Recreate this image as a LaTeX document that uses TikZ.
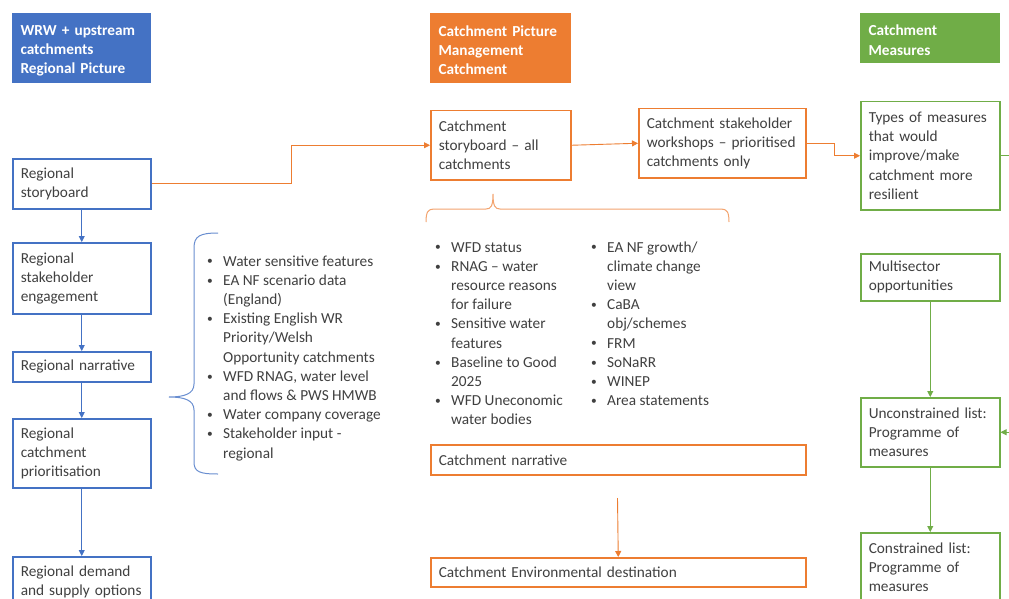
\documentclass[tikz,border=0pt]{standalone}
\usepackage{fontspec}
\setmainfont{Carlito}
\usetikzlibrary{arrows.meta}
\definecolor{cblue}{HTML}{4472C4}
\definecolor{corange}{HTML}{ED7D31}
\definecolor{cgreen}{HTML}{70AD47}
\definecolor{ctext}{HTML}{404040}
\newcommand{\bul}{\raisebox{0.15ex}{\scalebox{0.75}{\textbullet}}}
\newcommand{\hstr}{\rule{0pt}{15pt}}
\begin{document}
\begin{tikzpicture}[x=1pt,y=-1pt,
  font=\fontsize{15.3}{19.2}\selectfont,
  box/.style={draw=#1,line width=1.5pt,fill=white,text=ctext,align=left,
    inner xsep=8pt,inner ysep=0pt,anchor=north west},
  head/.style={draw=#1,fill=#1,line width=1pt,text=white,align=left,
    inner xsep=8pt,inner ysep=0pt,anchor=north west,font=\fontsize{15.3}{19.2}\selectfont\bfseries},
  conn/.style={draw=#1,line width=0.9pt,-{Triangle[length=6pt,width=6pt]}},
  list/.style={anchor=base west,inner sep=0pt,text=ctext,align=left}]
\useasboundingbox (0,0) rectangle (1009,599);
\clip (0,0) rectangle (1009,599);
\fill[white] (0,0) rectangle (1009,599);

% headers
\node[head=cblue,minimum width=138,minimum height=69,text width=122] (h1) at (12,13)
  {\hstr WRW + upstream\\catchments\\Regional Picture};
\node[head=corange,minimum width=140,minimum height=69,text width=124] (h2) at (430,13)
  {\hstr Catchment Picture\\Management\\Catchment};
\node[head=cgreen,minimum width=139,minimum height=49,text width=123] (h3) at (860,13)
  {\hstr Catchment\\Measures};

% regional column
\node[box=cblue,minimum width=138,minimum height=50,text width=122] (b1) at (12,158) {Regional\\storyboard};
\node[box=cblue,minimum width=138,minimum height=71,text width=122] (b2) at (12,242) {Regional\\stakeholder\\engagement};
\node[box=cblue,minimum width=138,minimum height=30,text width=122] (b3) at (12,351) {Regional narrative};
\node[box=cblue,minimum width=138,minimum height=69,text width=122] (b4) at (12,418) {Regional\\catchment\\prioritisation};
\node[box=cblue,minimum width=138,minimum height=51,text width=122] (b5) at (12,556) {Regional demand\\and supply options};

% catchment column
\node[box=corange,minimum width=140,minimum height=69,text width=124] (o1) at (430,110) {Catchment\\storyboard -- all\\catchments};
\node[box=corange,minimum width=167,minimum height=69,text width=151] (o2) at (638,108) {Catchment stakeholder\\workshops -- prioritised\\catchments only};
\node[box=corange,minimum width=375,minimum height=30,text width=359] (o3) at (430,444) {Catchment narrative};
\node[box=corange,minimum width=375,minimum height=29,text width=359] (o4) at (430,557) {Catchment Environmental destination};

% measures column
\node[box=cgreen,minimum width=139,minimum height=108,text width=123] (g1) at (860,101) {Types of measures\\that would\\improve/make\\catchment more\\resilient};
\node[box=cgreen,minimum width=139,minimum height=47,text width=123] (g2) at (860,253) {Multisector\\opportunities};
\node[box=cgreen,minimum width=139,minimum height=69,text width=123] (g3) at (860,397) {Unconstrained list:\\Programme of\\measures};
\node[box=cgreen,minimum width=139,minimum height=69,text width=123] (g4) at (860,532) {Constrained list:\\Programme of\\measures};

% lists
\node[list] (l1) at (207,266) {\begin{tabular}[t]{@{}p{16pt}@{}l@{}}
\bul & Water sensitive features\\
\bul & EA NF scenario data\\
 & (England)\\
\bul & Existing English WR\\
 & Priority/Welsh\\
 & Opportunity catchments\\
\bul & WFD RNAG, water level\\
 & and flows \& PWS HMWB\\
\bul & Water company coverage\\
\bul & Stakeholder input -\\
 & regional
\end{tabular}};
\node[list] (l2) at (435,252) {\begin{tabular}[t]{@{}p{16pt}@{}l@{}}
\bul & WFD status\\
\bul & RNAG -- water\\
 & resource reasons\\
 & for failure\\
\bul & Sensitive water\\
 & features\\
\bul & Baseline to Good\\
 & 2025\\
\bul & WFD Uneconomic\\
 & water bodies
\end{tabular}};
\node[list] (l3) at (591,252) {\begin{tabular}[t]{@{}p{16pt}@{}l@{}}
\bul & EA NF growth/\\
 & climate change\\
 & view\\
\bul & CaBA\\
 & obj/schemes\\
\bul & FRM\\
\bul & SoNaRR\\
\bul & WINEP\\
\bul & Area statements
\end{tabular}};

% braces
\draw[cblue!80,line width=1pt] (218,233) .. controls (200,233) and (194,236) .. (194,248)
  -- (194,384) .. controls (194,394) and (184,397) .. (169,397)
  .. controls (184,397) and (194,400) .. (194,410)
  -- (194,462) .. controls (194,472) and (200,474) .. (218,474);
\draw[corange!70,line width=1pt] (426,222) .. controls (426,212) and (428,209) .. (434,209)
  -- (486,209) .. controls (491,209) and (493,206) .. (493,194)
  .. controls (493,206) and (495,209) .. (500,209)
  -- (721,209) .. controls (727,209) and (729,212) .. (729,222);

% connectors
\draw[conn=cblue] (b1.south) -- (b2.north);
\draw[conn=cblue] (b2.south) -- (b3.north);
\draw[conn=cblue] (b3.south) -- (b4.north);
\draw[conn=cblue] (b4.south) -- (b5.north);
\draw[conn=corange] (b1.east) -- ++(140,0) |- (o1.west);
\draw[conn=corange] (o1.east) -- (o2.west);
\draw[conn=corange] (o2.east) -- ++(28,0) |- (g1.west);
\coordinate (oa) at (617.5,498);
\draw[conn=corange] (oa) -- (o4.north);
\draw[conn=cgreen] (g2.south) -- (g3.north);
\draw[conn=cgreen] (g3.south) -- (g4.north);
\draw[conn=cgreen] (g1.east) -- ++(16,0) |- (g3.east);
\end{tikzpicture}
\end{document}
